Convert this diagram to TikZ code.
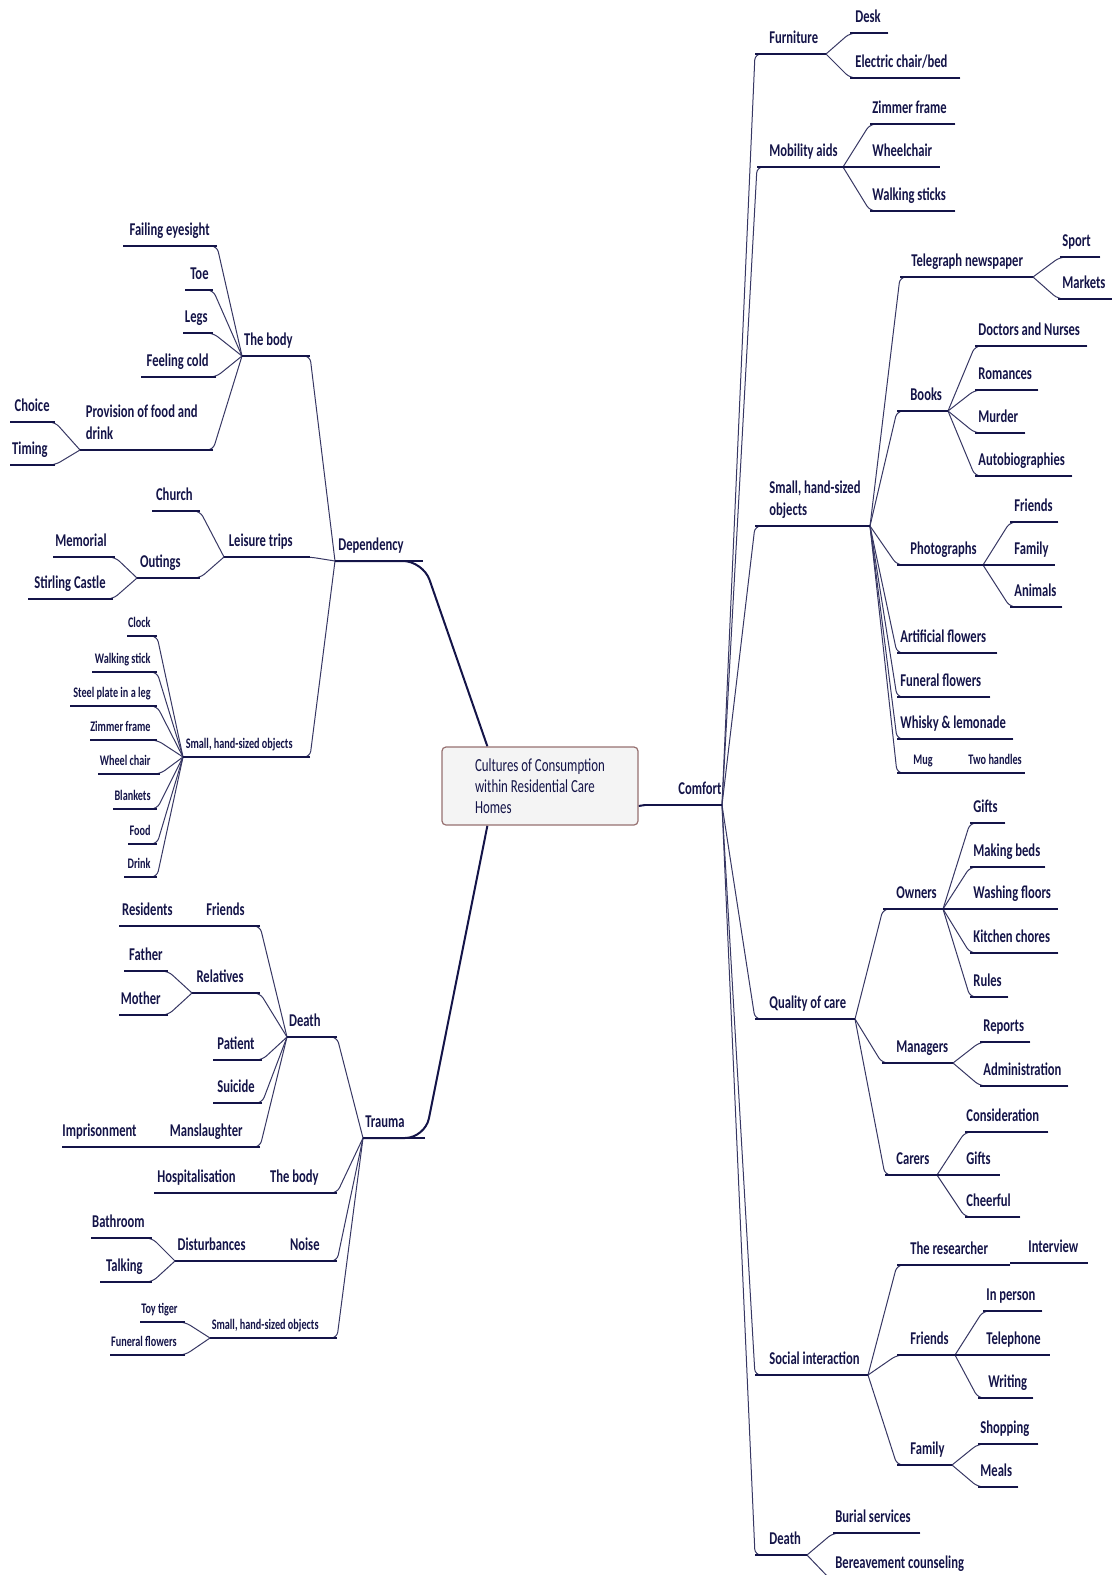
\documentclass[tikz,border=0pt]{standalone}
\usepackage{fontspec}
\setmainfont{Carlito}[FakeStretch=0.7]
\usetikzlibrary{backgrounds,calc}
\definecolor{ink}{RGB}{20,20,72}
\definecolor{boxline}{RGB}{150,112,112}
\definecolor{boxfill}{RGB}{244,244,244}
\tikzset{
  lbl/.style={inner sep=0pt, text=ink, yshift=5.5pt, font=\bfseries\fontsize{9}{11}\selectfont},
  tiny/.style={inner sep=0pt, text=ink, yshift=4.5pt, font=\bfseries\fontsize{7.3}{9}\selectfont},
  uline/.style={draw=ink, line width=0.9pt},
  link/.style={draw=ink!85, line width=0.5pt, rounded corners=3pt},
  mainlink/.style={draw=ink, line width=1pt, rounded corners=10pt},
  mainbox/.style={draw=boxline, fill=boxfill, line width=0.6pt, rounded corners=2pt,
    minimum width=98pt, minimum height=39pt, align=left, text=ink,
    font=\fontsize{9.2}{10.5}\selectfont}
}
% [style]{name}{start x}{end x}{line y}{text x}{text}
\newcommand{\rtopic}[7][lbl]{%
  \draw[uline] (#3,#5) coordinate (#2-a) -- (#4,#5) coordinate (#2-b);
  \node[#1, anchor=base west] (#2) at (#6,#5) {#7};}
\newcommand{\ltopic}[7][lbl]{%
  \draw[uline] (#3,#5) coordinate (#2-a) -- (#4,#5) coordinate (#2-b);
  \node[#1, anchor=base east] (#2) at (#6,#5) {#7};}
\newcommand{\two}[2]{\begin{tabular}[b]{@{}l@{}}#1\\#2\end{tabular}}

\begin{document}
\begin{tikzpicture}[x=0.5pt, y=-0.5pt]
\useasboundingbox (0,0) rectangle (1112,1575);

\node[mainbox] (box) at (540,786) {Cultures of Consumption\\within Residential Care\\Homes};

% Comfort
\rtopic{cmf}{645}{722}{805}{678}{Comfort}
\rtopic{furn}{755}{826}{54}{769}{Furniture}
\rtopic{desk}{850}{888}{33}{855}{Desk}
\rtopic{elec}{850}{960}{78}{855}{Electric chair/bed}
\rtopic{mob}{757}{843}{167}{769}{Mobility aids}
\rtopic{zim}{870}{955}{124}{872}{Zimmer frame}
\rtopic{wch}{843}{940}{167}{872}{Wheelchair}
\rtopic{walk}{870}{955}{211}{872}{Walking sticks}
\rtopic{small}{755}{870}{526}{769}{\two{Small, hand-sized}{objects}}
\rtopic{tel}{900}{1033}{277}{911}{Telegraph newspaper}
\rtopic{sport}{1060}{1100}{257}{1062}{Sport}
\rtopic{mkt}{1058}{1112}{299}{1062}{Markets}
\rtopic{books}{897}{948}{411}{910}{Books}
\rtopic{doc}{975}{1087}{346}{978}{Doctors and Nurses}
\rtopic{rom}{975}{1038}{390}{978}{Romances}
\rtopic{mur}{975}{1025}{433}{978}{Murder}
\rtopic{auto}{975}{1072}{476}{978}{Autobiographies}
\rtopic{photo}{897}{983}{565}{910}{Photographs}
\rtopic{pfr}{1010}{1058}{522}{1014}{Friends}
\rtopic{pfam}{983}{1055}{565}{1014}{Family}
\rtopic{pan}{1010}{1062}{607}{1014}{Animals}
\rtopic{art}{897}{997}{653}{900}{Artificial flowers}
\rtopic{fun}{897}{990}{697}{900}{Funeral flowers}
\rtopic{whisky}{897}{1013}{739}{900}{Whisky \& lemonade}
\rtopic[tiny]{mug}{897}{945}{773}{913}{Mug}
\rtopic[tiny]{handles}{945}{1025}{773}{968}{Two handles}
\rtopic{qual}{755}{855}{1019}{769}{Quality of care}
\rtopic{own}{883}{943}{909}{896}{Owners}
\rtopic{ogift}{970}{1005}{823}{973}{Gifts}
\rtopic{beds}{970}{1045}{867}{973}{Making beds}
\rtopic{floor}{943}{1058}{909}{973}{Washing floors}
\rtopic{kitch}{970}{1058}{953}{973}{Kitchen chores}
\rtopic{rules}{970}{1008}{997}{973}{Rules}
\rtopic{man}{882}{953}{1063}{896}{Managers}
\rtopic{rep}{980}{1030}{1042}{983}{Reports}
\rtopic{adm}{980}{1068}{1086}{983}{Administration}
\rtopic{car}{885}{937}{1175}{896}{Carers}
\rtopic{cons}{965}{1048}{1132}{966}{Consideration}
\rtopic{cgift}{937}{1000}{1175}{966}{Gifts}
\rtopic{cheer}{965}{1020}{1217}{966}{Cheerful}
\rtopic{soc}{755}{868}{1375}{769}{Social interaction}
\rtopic{res}{897}{1010}{1265}{910}{The researcher}
\rtopic{intv}{1010}{1088}{1263}{1028}{Interview}
\rtopic{sfr}{897}{955}{1355}{910}{Friends}
\rtopic{pers}{983}{1042}{1311}{986}{In person}
\rtopic{tel2}{955}{1050}{1355}{986}{Telephone}
\rtopic{writ}{978}{1033}{1398}{988}{Writing}
\rtopic{sfam}{897}{952}{1465}{910}{Family}
\rtopic{shop}{978}{1038}{1444}{980}{Shopping}
\rtopic{meals}{978}{1018}{1487}{980}{Meals}
\rtopic{cdeath}{755}{807}{1555}{769}{Death}
\rtopic{burial}{833}{920}{1533}{835}{Burial services}
\rtopic{berea}{830}{975}{1579}{835}{Bereavement counseling}

% Dependency
\ltopic{dep}{423}{335}{561}{404}{Dependency}
\ltopic{body}{310}{242}{356}{293}{The body}
\ltopic{fail}{217}{123}{246}{210}{Failing eyesight}
\ltopic{toe}{213}{185}{290}{209}{Toe}
\ltopic{legs}{213}{183}{333}{208}{Legs}
\ltopic{cold}{216}{141}{377}{209}{Feeling cold}
\ltopic{prov}{213}{80}{450}{198}{\two{Provision of food and}{drink}}
\ltopic{choice}{55}{10}{422}{50}{Choice}
\ltopic{timing}{55}{10}{465}{48}{Timing}
\ltopic{leis}{310}{224}{557}{293}{Leisure trips}
\ltopic{church}{200}{152}{511}{193}{Church}
\ltopic{out}{200}{137}{578}{181}{Outings}
\ltopic{memo}{115}{53}{557}{107}{Memorial}
\ltopic{stir}{113}{28}{599}{106}{Stirling Castle}
\ltopic[tiny]{dsmall}{310}{183}{757}{293}{Small, hand-sized objects}
\ltopic[tiny]{clock}{157}{127}{636}{151}{Clock}
\ltopic[tiny]{wstick}{157}{92}{672}{151}{Walking stick}
\ltopic[tiny]{steel}{157}{70}{706}{151}{Steel plate in a leg}
\ltopic[tiny]{dzim}{157}{90}{740}{151}{Zimmer frame}
\ltopic[tiny]{dwch}{160}{98}{774}{151}{Wheel chair}
\ltopic[tiny]{blank}{157}{113}{809}{151}{Blankets}
\ltopic[tiny]{food}{157}{128}{844}{151}{Food}
\ltopic[tiny]{drink}{157}{124}{877}{151}{Drink}

% Trauma
\ltopic{trau}{425}{363}{1138}{405}{Trauma}
\ltopic{death}{337}{287}{1037}{321}{Death}
\ltopic{dfr}{260}{198}{926}{245}{Friends}
\ltopic{resid}{198}{119}{926}{173}{Residents}
\ltopic{rel}{260}{192}{993}{244}{Relatives}
\ltopic{father}{168}{124}{971}{163}{Father}
\ltopic{mother}{168}{119}{1015}{161}{Mother}
\ltopic{pat}{262}{213}{1060}{255}{Patient}
\ltopic{sui}{262}{213}{1103}{255}{Suicide}
\ltopic{mans}{260}{147}{1147}{243}{Manslaughter}
\ltopic{impr}{147}{62}{1147}{137}{Imprisonment}
\ltopic{tbody}{337}{257}{1193}{319}{The body}
\ltopic{hosp}{257}{154}{1193}{236}{Hospitalisation}
\ltopic{noise}{337}{277}{1261}{320}{Noise}
\ltopic{dist}{277}{175}{1261}{246}{Disturbances}
\ltopic{bath}{152}{91}{1238}{145}{Bathroom}
\ltopic{talk}{152}{100}{1282}{143}{Talking}
\ltopic[tiny]{tsmall}{337}{210}{1338}{319}{Small, hand-sized objects}
\ltopic[tiny]{tiger}{185}{140}{1322}{178}{Toy tiger}
\ltopic[tiny]{tfun}{185}{110}{1355}{177}{Funeral flowers}

\begin{scope}[on background layer]
\draw[mainlink] ($(box.north west)+(46,0)$) -- (dep-a) -- (dep-b);
\draw[mainlink] ($(box.south west)+(46,0)$) -- (trau-a) -- (trau-b);
\draw[mainlink] ($(box.east)+(0,20)$) -- (cmf-a);

\foreach \c in {furn,mob,small,qual,soc,cdeath} \draw[link] (cmf-b) -- (\c-a) -- (\c-b);
\foreach \c in {desk,elec} \draw[link] (furn-b) -- (\c-a) -- (\c-b);
\foreach \c in {zim,walk} \draw[link] (mob-b) -- (\c-a) -- (\c-b);
\foreach \c in {tel,books,photo,art,fun,whisky,mug} \draw[link] (small-b) -- (\c-a) -- (\c-b);
\foreach \c in {sport,mkt} \draw[link] (tel-b) -- (\c-a) -- (\c-b);
\foreach \c in {doc,rom,mur,auto} \draw[link] (books-b) -- (\c-a) -- (\c-b);
\foreach \c in {pfr,pan} \draw[link] (photo-b) -- (\c-a) -- (\c-b);
\foreach \c in {own,man,car} \draw[link] (qual-b) -- (\c-a) -- (\c-b);
\foreach \c in {ogift,beds,kitch,rules} \draw[link] (own-b) -- (\c-a) -- (\c-b);
\foreach \c in {rep,adm} \draw[link] (man-b) -- (\c-a) -- (\c-b);
\foreach \c in {cons,cheer} \draw[link] (car-b) -- (\c-a) -- (\c-b);
\foreach \c in {res,sfr,sfam} \draw[link] (soc-b) -- (\c-a) -- (\c-b);
\foreach \c in {pers,writ} \draw[link] (sfr-b) -- (\c-a) -- (\c-b);
\foreach \c in {shop,meals} \draw[link] (sfam-b) -- (\c-a) -- (\c-b);
\foreach \c in {burial,berea} \draw[link] (cdeath-b) -- (\c-a) -- (\c-b);

\foreach \c in {body,leis,dsmall} \draw[link] (dep-b) -- (\c-a) -- (\c-b);
\foreach \c in {fail,toe,legs,cold,prov} \draw[link] (body-b) -- (\c-a) -- (\c-b);
\foreach \c in {choice,timing} \draw[link] (prov-b) -- (\c-a) -- (\c-b);
\foreach \c in {church,out} \draw[link] (leis-b) -- (\c-a) -- (\c-b);
\foreach \c in {memo,stir} \draw[link] (out-b) -- (\c-a) -- (\c-b);
\foreach \c in {clock,wstick,steel,dzim,dwch,blank,food,drink} \draw[link] (dsmall-b) -- (\c-a) -- (\c-b);
\foreach \c in {death,tbody,noise,tsmall} \draw[link] (trau-b) -- (\c-a) -- (\c-b);
\foreach \c in {dfr,rel,pat,sui,mans} \draw[link] (death-b) -- (\c-a) -- (\c-b);
\foreach \c in {father,mother} \draw[link] (rel-b) -- (\c-a) -- (\c-b);
\foreach \c in {bath,talk} \draw[link] (dist-b) -- (\c-a) -- (\c-b);
\foreach \c in {tiger,tfun} \draw[link] (tsmall-b) -- (\c-a) -- (\c-b);
\end{scope}
\end{tikzpicture}
\end{document}
